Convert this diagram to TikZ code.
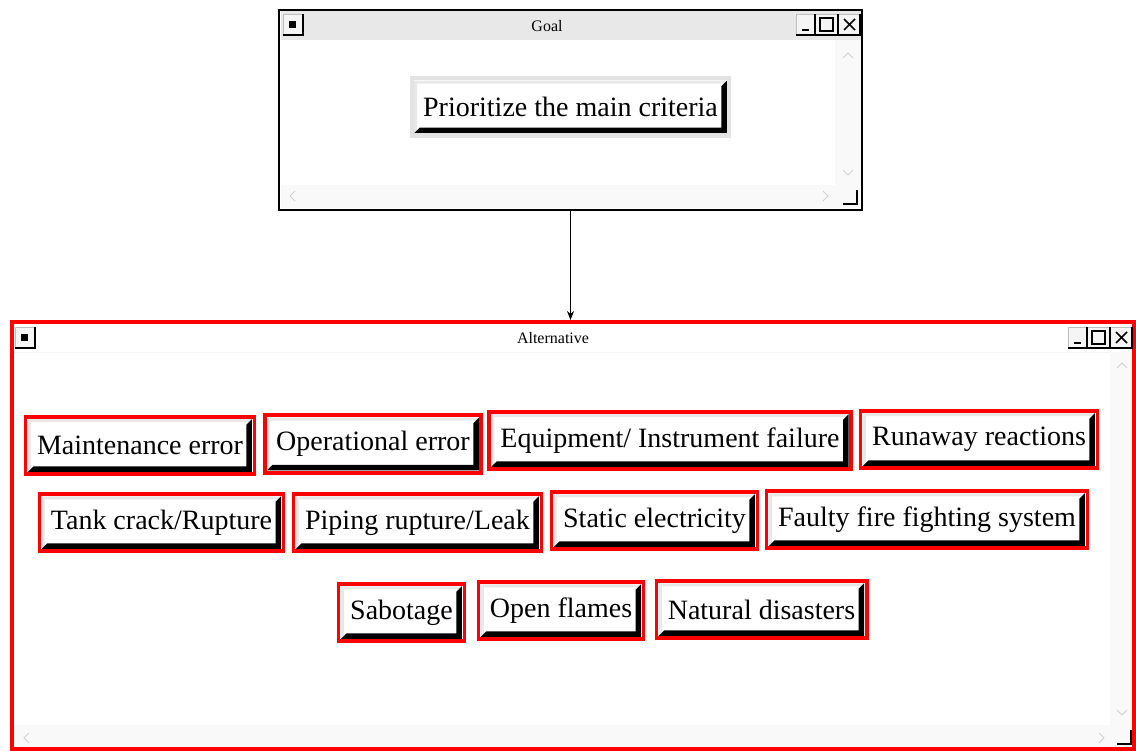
\documentclass[tikz,border=0pt]{standalone}
\usepackage{fontspec}
\setmainfont{Liberation Serif}
\usetikzlibrary{calc,arrows.meta}

% minimise / maximise / close buttons, top left corner at (#1,#2)
\newcommand{\winctl}[2]{%
  \begin{scope}[shift={(#1,#2)}]
    \fill[gray!8] (0,0) rectangle (64,21);
    \draw[gray!50,line width=0.6pt] (0,0) rectangle (64,21);
    \draw[line width=1.3pt] (0,21) -- (19,21) -- (19,0) (20,21) -- (42,21) -- (42,0) (43,21) -- (64,21) -- (64,0);
    \fill (6,15) rectangle (13,17.5);
    \draw[line width=1.2pt] (24,4) rectangle (37,17);
    \draw[line width=1.6pt] (48,5) -- (59,16) (48,16) -- (59,5);
  \end{scope}}
% window menu button, top left corner at (#1,#2)
\newcommand{\winmenu}[2]{%
  \begin{scope}[shift={(#1,#2)}]
    \fill[gray!8] (0,0) rectangle (20,21);
    \draw[gray!50,line width=0.6pt] (0,0) rectangle (20,21);
    \draw[line width=1.3pt] (0,21) -- (20,21) -- (20,0);
    \fill (6,7) rectangle (13,14);
  \end{scope}}

\tikzset{bevel/.style={path picture={
  \def\pb{path picture bounding box}
  \fill[gray!18] ($(\pb.south west)+(2.5pt,2.5pt)$) |- ($(\pb.north east)+(-2.5pt,-2.5pt)$)
     -- ++(-3pt,-3pt) -| ($(\pb.south west)+(5.5pt,5.5pt)$) -- cycle;
  \fill[black] ($(\pb.south west)+(2.5pt,2.5pt)$) -| ($(\pb.north east)+(-2.5pt,-2.5pt)$)
     -- ++(-5.5pt,-5.5pt) |- ($(\pb.south west)+(8pt,8pt)$) -- cycle;
}}}

\begin{document}
\begin{tikzpicture}[x=1pt,y=-1pt,
  btn/.style={draw=red,line width=3.6pt,fill=white,bevel,minimum height=57.5pt,
    inner xsep=11.5pt,inner ysep=0pt,font=\fontsize{28}{32}\selectfont},
  goalbtn/.style={btn,draw=gray!22,line width=4pt},
  title/.style={font=\fontsize{16}{18}\selectfont},
  chev/.style={gray!35,line width=1pt},
  scroll/.style={fill=gray!5}]
\useasboundingbox (0,0) rectangle (1136,751);

% goal window
\node[draw,line width=2.5pt,fill=white,minimum width=583pt,minimum height=200pt,inner sep=0pt] (goal) at (570.5,110) {};
\fill[gray!18] (280.5,11.5) rectangle (860.5,40);
\fill[scroll] (835,40) rectangle (860.5,185);
\fill[scroll] (280.5,185) rectangle (860.5,208.5);
\winmenu{283}{14}
\winctl{796}{14}
\node[title] (goaltitle) at (547,26) {Goal};
\draw[chev] (843,58) -- (848,53) -- (853,58);
\draw[chev] (843,170) -- (848,175) -- (853,170);
\draw[chev] (295,191) -- (290,196) -- (295,201);
\draw[chev] (823,191) -- (828,196) -- (823,201);
\draw[line width=1.4pt] (843,204) -- (857,204) -- (857,190);
\node[goalbtn] (crit) at (570.5,107) {Prioritize the main criteria};

% alternative window
\node[draw=red,line width=4pt,fill=white,minimum width=1122pt,minimum height=427pt,inner sep=0pt] (alt) at (573,535.5) {};
\fill[scroll] (1110,352) rectangle (1132,725);
\fill[scroll] (14,725) rectangle (1132,747);
\draw[gray!8] (14,352) -- (1110,352);
\winmenu{15}{327}
\winctl{1068}{327}
\node[title] (alttitle) at (553,338) {Alternative};
\draw[chev] (1117,368) -- (1122,363) -- (1127,368);
\draw[chev] (1117,710) -- (1122,715) -- (1127,710);
\draw[chev] (29,733) -- (24,738) -- (29,743);
\draw[chev] (1099,733) -- (1104,738) -- (1099,743);
\draw[line width=1.4pt] (1117,744) -- (1131,744) -- (1131,730);

\draw[-{Stealth[length=9pt,width=7pt]},line width=1pt] (goal.south) -- (goal.south |- alt.north);

% alternatives
\node[btn] (maint) at (140,445.5) {Maintenance error};
\node[btn] (oper) at (373,444) {Operational error};
\node[btn] (equip) at (670,440.5) {Equipment/ Instrument failure};
\node[btn] (runaway) at (979,439.5) {Runaway reactions};
\node[btn] (tank) at (161.5,522.5) {Tank crack/Rupture};
\node[btn] (piping) at (417.5,522.5) {Piping rupture/Leak};
\node[btn] (static) at (654.5,520.5) {Static electricity};
\node[btn] (faulty) at (927,519.5) {Faulty fire fighting system};
\node[btn] (sabot) at (401.5,612.5) {Sabotage};
\node[btn] (flames) at (561,610.5) {Open flames};
\node[btn] (natural) at (761.5,609.5) {Natural disasters};
\end{tikzpicture}
\end{document}
